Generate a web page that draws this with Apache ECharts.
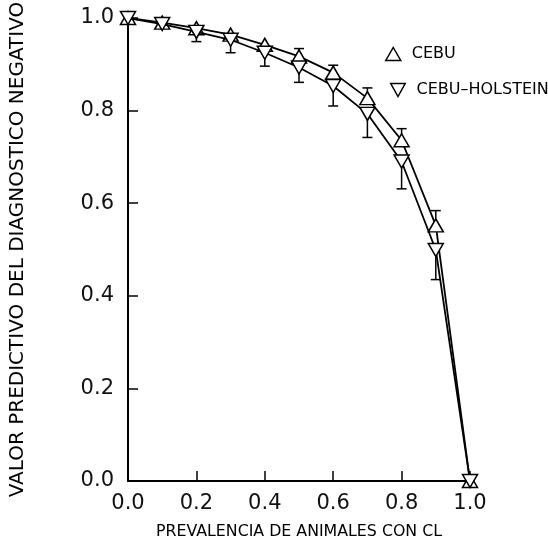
<!DOCTYPE html>
<html>
<head>
<meta charset="utf-8">
<script src="https://cdn.jsdelivr.net/npm/echarts@6/dist/echarts.min.js"></script>
<style>html,body{margin:0;padding:0;background:#fff;}#c{width:548px;height:545px;}</style>
</head>
<body>
<div id="c"></div>
<script>
const prevalence = [0.0, 0.1, 0.2, 0.3, 0.4, 0.5, 0.6, 0.7, 0.8, 0.9, 1.0];
const cebu = [1.0, 0.990, 0.978, 0.964, 0.942, 0.917, 0.882, 0.827, 0.736, 0.552, 0.0];
const cebuUpper = [null, null, null, null, null, 0.934, 0.898, 0.849, 0.761, 0.584, null];
const holstein = [1.0, 0.987, 0.970, 0.953, 0.925, 0.893, 0.853, 0.793, 0.690, 0.499, 0.0];
const holsteinLower = [null, null, 0.949, 0.925, 0.896, 0.861, 0.810, 0.742, 0.631, 0.435, null];
const tickValues = [0.0, 0.2, 0.4, 0.6, 0.8, 1.0];

const font = 'DejaVu Sans';
const pairs = (ys) => prevalence.map((x, i) => [x, ys[i]]);
const errData = (ys, es) => prevalence.map((x, i) => [x, ys[i], es[i]]).filter(d => d[2] !== null);

function errRender(params, api) {
  const x = api.value(0), y = api.value(1), e = api.value(2);
  const p1 = api.coord([x, y]);
  const p2 = api.coord([x, e]);
  return {
    type: 'group',
    children: [
      {type: 'line', shape: {x1: p1[0], y1: p1[1], x2: p2[0], y2: p2[1]}, style: {stroke: '#000', lineWidth: 1.5}},
      {type: 'line', shape: {x1: p2[0] - 5, y1: p2[1], x2: p2[0] + 5, y2: p2[1]}, style: {stroke: '#000', lineWidth: 1.5}}
    ]
  };
}

const downTri = 'path://M0,0 L10,0 L5,9 Z';
const legendText = {fontFamily: font, fontSize: 16, color: '#000', padding: [0, 0, 0, 6]};
const legendItem = {color: '#fff', borderColor: '#000', borderWidth: 1.5};

const chart = echarts.init(document.getElementById('c'));
chart.setOption({
  animation: false,
  backgroundColor: '#fff',
  grid: {left: 128, right: 78, top: 18, bottom: 58, containLabel: false},
  legend: [
    {
      left: 380, top: 41, itemWidth: 15, itemHeight: 13,
      textStyle: legendText,
      data: [{name: 'CEBU', icon: 'triangle', itemStyle: legendItem}]
    },
    {
      left: 385, top: 77, itemWidth: 15, itemHeight: 13,
      textStyle: legendText,
      data: [{name: 'CEBU\u2013HOLSTEIN', icon: downTri, itemStyle: legendItem}]
    }
  ],
  xAxis: {
    type: 'value', min: 0, max: 1, interval: 0.2,
    name: 'PREVALENCIA DE ANIMALES CON CL',
    nameLocation: 'middle', nameGap: 43,
    nameTextStyle: {fontFamily: font, fontSize: 15.8, color: '#000'},
    axisLine: {lineStyle: {color: '#000', width: 2}},
    axisTick: {inside: true, length: 10, lineStyle: {color: '#000', width: 1.5}},
    axisLabel: {fontFamily: font, fontSize: 21, color: '#111', margin: 12, formatter: v => v.toFixed(1)},
    splitLine: {show: false}
  },
  yAxis: {
    type: 'value', min: 0, max: 1, interval: 0.2,
    name: 'VALOR PREDICTIVO DEL DIAGNOSTICO NEGATIVO',
    nameLocation: 'middle', nameGap: 100,
    nameTextStyle: {fontFamily: font, fontSize: 20, color: '#000'},
    axisLine: {show: true, lineStyle: {color: '#000', width: 2}},
    axisTick: {show: true, inside: true, length: 10, lineStyle: {color: '#000', width: 1.5}},
    axisLabel: {fontFamily: font, fontSize: 21, color: '#111', margin: 14, formatter: v => v.toFixed(1)},
    splitLine: {show: false}
  },
  series: [
    {type: 'custom', renderItem: errRender, data: errData(cebu, cebuUpper), z: 1, silent: true},
    {type: 'custom', renderItem: errRender, data: errData(holstein, holsteinLower), z: 1, silent: true},
    {
      name: 'CEBU', type: 'line', data: pairs(cebu), z: 3,
      symbol: 'triangle', symbolSize: [15, 13],
      lineStyle: {color: '#000', width: 1.8},
      itemStyle: {color: '#fff', borderColor: '#000', borderWidth: 1.5}
    },
    {
      name: 'CEBU\u2013HOLSTEIN', type: 'line', data: pairs(holstein), z: 4,
      symbol: 'triangle', symbolRotate: 180, symbolSize: [15, 13],
      lineStyle: {color: '#000', width: 1.8},
      itemStyle: {color: '#fff', borderColor: '#000', borderWidth: 1.5}
    }
  ]
});
</script>
</body>
</html>
